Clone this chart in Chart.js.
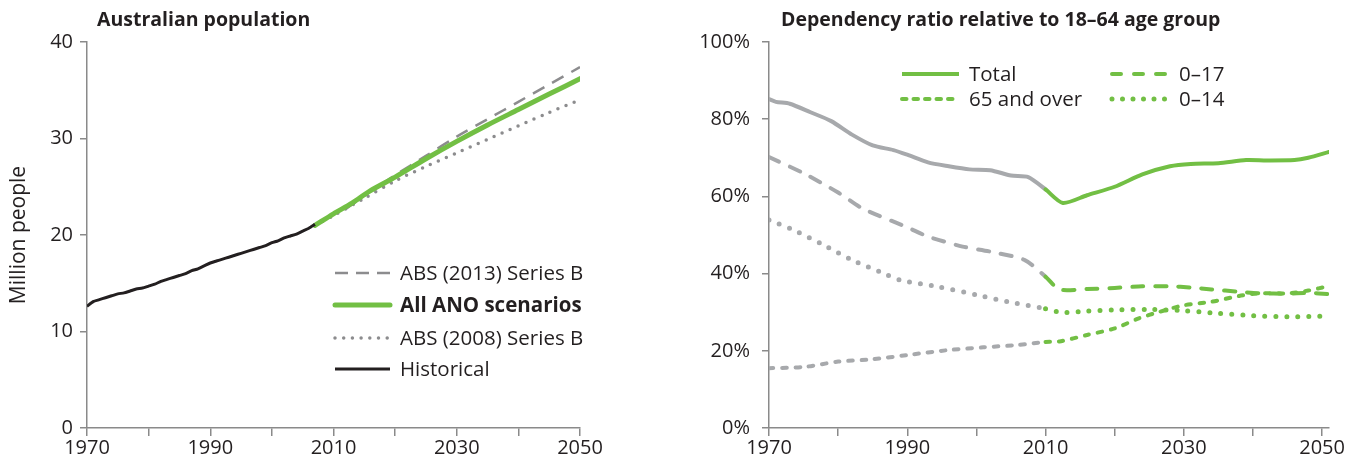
<!DOCTYPE html>
<html lang="en">
<head>
<meta charset="UTF-8">
<title>Australian population and dependency ratio</title>
<script src="https://cdn.jsdelivr.net/npm/chart.js"></script>
<style>
    body { margin: 0; background: #fff; }
    .painel { position: absolute; top: 0; height: 463px; }
    #esq { left: 0; width: 640px; }
    #dir { left: 660px; width: 694px; }
</style>
</head>
<body>
<div class="painel" id="esq"><canvas id="grafico-populacao"></canvas></div>
<div class="painel" id="dir"><canvas id="grafico-dependencia"></canvas></div>

<script>
    // ---- left chart: Australian population (million people)
    const historicalYears = [1970, 1971, 1972, 1973, 1974, 1975, 1976, 1977, 1978, 1979, 1980, 1981, 1982, 1983, 1984, 1985, 1986, 1987, 1988, 1989,
        1990, 1991, 1992, 1993, 1994, 1995, 1996, 1997, 1998, 1999, 2000, 2001, 2002, 2003, 2004, 2005, 2006, 2007];
    const historicalPop = [12.6, 13.1, 13.3, 13.5, 13.7, 13.9, 14.0, 14.2, 14.4, 14.5, 14.7, 14.9, 15.2, 15.4, 15.6, 15.8, 16.0, 16.3, 16.5, 16.8,
        17.1, 17.3, 17.5, 17.7, 17.9, 18.1, 18.3, 18.5, 18.7, 18.9, 19.2, 19.4, 19.7, 19.9, 20.1, 20.4, 20.7, 21.1];
    const anoYears = [2007, 2010, 2013, 2016, 2020, 2025, 2030, 2035, 2040, 2045, 2050];
    const anoPop = [21.0, 22.2, 23.3, 24.6, 26.0, 27.9, 29.7, 31.4, 33.0, 34.6, 36.2];
    const abs2013Years = [2012, 2016, 2020, 2025, 2030, 2035, 2040, 2045, 2050];
    const abs2013Pop = [22.7, 24.5, 26.2, 28.2, 30.2, 32.0, 33.8, 35.6, 37.4];
    const abs2008Years = [2007, 2010, 2015, 2020, 2025, 2030, 2035, 2040, 2045, 2050];
    const abs2008Pop = [21.0, 22.0, 23.8, 25.6, 27.1, 28.5, 29.9, 31.3, 32.7, 34.0];
    const popYearTicks = [1970, 1980, 1990, 2000, 2010, 2020, 2030, 2040, 2050];
    const popYearLabels = ['1970', '', '1990', '', '2010', '', '2030', '', '2050'];
    const popTicks = [0, 10, 20, 30, 40];

    // ---- right chart: dependency ratio relative to 18-64 (%)
    const totalYears = [1970, 1971, 1973, 1976, 1979, 1982, 1985, 1988, 1990, 1993, 1996, 1999, 2002, 2005, 2007.5, 2010, 2012.5,
        2016, 2020, 2024, 2028, 2031, 2035, 2039, 2042, 2046, 2048, 2051];
    const totalRatio = [85.2, 84.5, 84.0, 81.8, 79.5, 76.0, 73.2, 72.0, 70.8, 68.8, 67.8, 67.0, 66.8, 65.4, 65.0, 61.8, 58.3,
        60.3, 62.5, 65.7, 67.8, 68.4, 68.6, 69.4, 69.3, 69.4, 70.0, 71.5];
    const age0to17Years = [1970, 1975, 1980, 1983.5, 1990, 1993, 1998, 2002, 2007, 2010, 2012, 2016, 2020, 2024, 2028, 2031, 2034, 2038, 2041, 2045, 2048, 2051];
    const age0to17Ratio = [70.2, 66.0, 61.0, 56.9, 52.0, 49.6, 47.0, 45.7, 43.5, 39.2, 35.9, 36.0, 36.3, 36.7, 36.7, 36.4, 35.9, 35.3, 34.9, 34.8, 35.0, 34.7];
    const age65Years = [1970, 1975, 1980, 1985, 1990, 1996, 2001, 2006, 2010, 2012, 2016, 2020, 2023.5, 2026.5, 2030, 2034, 2038, 2041, 2045, 2048, 2051];
    const age65Ratio = [15.5, 15.8, 17.2, 17.8, 18.9, 20.2, 20.9, 21.5, 22.3, 22.4, 24.1, 25.8, 28.4, 30.1, 31.8, 32.7, 34.2, 34.9, 34.9, 35.6, 36.8];
    const age0to14Years = [1970, 1973.5, 1977.5, 1982, 1986, 1989, 1994.5, 2000, 2004.5, 2010, 2012.5, 2016, 2020, 2025, 2030, 2035, 2040, 2045, 2051];
    const age0to14Ratio = [53.9, 51.3, 47.8, 43.5, 40.5, 38.3, 36.6, 34.5, 32.7, 30.9, 29.9, 30.3, 30.6, 30.7, 30.4, 29.7, 29.1, 28.8, 29.0];
    const ratioYearTicks = [1970, 1980, 1990, 2000, 2010, 2020, 2030, 2040, 2050];
    const ratioYearLabels = ['1970', '', '1990', '', '2010', '', '2030', '', '2050'];
    const ratioTicks = [0, 20, 40, 60, 80, 100];
    const projectionStart = 2010;

    const GREEN = '#72bf44';
    const GREY = '#a7a9ac';
    const INK = '#231f20';
    const AXIS = '#8a8a8a';
    const FONT = '"Open Sans", "DejaVu Sans", sans-serif';

    function pontos(anos, valores) {
        return anos.map((ano, i) => ({ x: ano, y: valores[i] }));
    }

    // title + in-plot legend drawn on the canvas
    const extras = {
        id: 'extras',
        afterDraw(chart, args, opts) {
            const ctx = chart.ctx;
            const area = chart.chartArea;
            ctx.save();
            ctx.fillStyle = INK;
            ctx.textBaseline = 'middle';
            ctx.font = 'bold 19.5px ' + FONT;
            ctx.fillText(opts.title, area.left + opts.titleX, 20);
            opts.items.forEach(item => {
                const x = area.left + item.x;
                const y = area.top + item.y;
                ctx.beginPath();
                ctx.strokeStyle = item.color;
                ctx.lineWidth = item.width;
                ctx.lineCap = item.cap || 'butt';
                ctx.setLineDash(item.dash || []);
                ctx.moveTo(x, y);
                ctx.lineTo(x + opts.lineLen, y);
                ctx.stroke();
                ctx.setLineDash([]);
                ctx.fillStyle = INK;
                ctx.font = (item.bold ? 'bold ' : '') + '20.5px ' + FONT;
                ctx.fillText(item.text, x + opts.lineLen + 10, y + 1);
            });
            ctx.restore();
        }
    };

    function eixoX(min, max, ticks, labels, altura) {
        return {
            type: 'linear', min: min, max: max,
            afterBuildTicks: scale => { scale.ticks = ticks.map(v => ({ value: v })); },
            afterFit: scale => { scale.height = altura; },
            ticks: {
                autoSkip: false, maxRotation: 0, padding: 0, color: INK,
                font: { family: FONT, size: 20 },
                callback: (v, i) => labels[i]
            },
            grid: { drawOnChartArea: false, drawTicks: true, tickLength: 8, color: AXIS, lineWidth: 1.5 },
            border: { color: AXIS, width: 1.5 }
        };
    }

    function eixoY(min, max, ticks, largura, pad, fmt, titulo) {
        return {
            min: min, max: max,
            afterBuildTicks: scale => { scale.ticks = ticks.map(v => ({ value: v })); },
            afterFit: scale => { scale.width = largura; },
            title: titulo ? { display: true, text: titulo, color: INK, font: { family: FONT, size: 21 }, padding: { top: 6, bottom: 4 } } : { display: false },
            ticks: { padding: pad, color: INK, font: { family: FONT, size: 20 }, callback: fmt },
            grid: { drawOnChartArea: false, drawTicks: true, tickLength: 7, color: AXIS, lineWidth: 1.5 },
            border: { color: AXIS, width: 1.5 }
        };
    }

    Chart.defaults.animation = false;

    new Chart(document.getElementById('grafico-populacao'), {
        type: 'line',
        data: {
            datasets: [
                { label: 'Historical', data: pontos(historicalYears, historicalPop), borderColor: INK, borderWidth: 3, tension: 0.2 },
                { label: 'All ANO scenarios', data: pontos(anoYears, anoPop), borderColor: GREEN, borderWidth: 5, tension: 0.3, borderCapStyle: 'round' },
                { label: 'ABS (2013) Series B', data: pontos(abs2013Years, abs2013Pop), borderColor: '#8c8c8e', borderWidth: 2.5, borderDash: [13, 9], tension: 0.3 },
                { label: 'ABS (2008) Series B', data: pontos(abs2008Years, abs2008Pop), borderColor: '#8c8c8e', borderWidth: 3.5, borderDash: [0, 8.7], borderCapStyle: 'round', tension: 0.3 }
            ]
        },
        options: {
            responsive: true,
            maintainAspectRatio: false,
            layout: { padding: { left: 0, top: 42, right: 60, bottom: 0 } },
            elements: { point: { radius: 0 } },
            plugins: {
                legend: { display: false },
                tooltip: { enabled: false },
                extras: {
                    title: 'Australian population',
                    titleX: 10,
                    lineLen: 55,
                    items: [
                        { text: 'ABS (2013) Series B', x: 248, y: 231, color: '#8c8c8e', width: 2.5, dash: [13, 8] },
                        { text: 'All ANO scenarios', x: 248, y: 263, color: GREEN, width: 5, cap: 'round', bold: true },
                        { text: 'ABS (2008) Series B', x: 248, y: 296, color: '#8c8c8e', width: 3.5, dash: [0, 8.7], cap: 'round' },
                        { text: 'Historical', x: 248, y: 327, color: INK, width: 3 }
                    ]
                }
            },
            scales: {
                x: eixoX(1970, 2050, popYearTicks, popYearLabels, 35),
                y: eixoY(0, 40, popTicks, 87, 7, v => v, 'Million people')
            }
        },
        plugins: [extras]
    });

    const cor = ctx => ctx.p0.parsed.x < projectionStart ? GREY : GREEN;

    new Chart(document.getElementById('grafico-dependencia'), {
        type: 'line',
        data: {
            datasets: [
                { label: 'Total', data: pontos(totalYears, totalRatio), borderWidth: 4, tension: 0.25, borderCapStyle: 'round', segment: { borderColor: cor } },
                { label: '0–17', data: pontos(age0to17Years, age0to17Ratio), borderWidth: 4, borderDash: [11, 12], borderCapStyle: 'round', tension: 0.25, segment: { borderColor: cor } },
                { label: '65 and over', data: pontos(age65Years, age65Ratio), borderWidth: 4, borderDash: [4.5, 8.8], borderCapStyle: 'round', tension: 0.25, segment: { borderColor: cor } },
                { label: '0–14', data: pontos(age0to14Years, age0to14Ratio), borderWidth: 5, borderDash: [0, 11], borderCapStyle: 'round', tension: 0.25, segment: { borderColor: cor } }
            ]
        },
        options: {
            responsive: true,
            maintainAspectRatio: false,
            layout: { padding: { left: 0, top: 42, right: 25, bottom: 0 } },
            elements: { point: { radius: 0 } },
            plugins: {
                legend: { display: false },
                tooltip: { enabled: false },
                extras: {
                    title: 'Dependency ratio relative to 18–64 age group',
                    titleX: 12,
                    lineLen: 57,
                    items: [
                        { text: 'Total', x: 133, y: 32, color: GREEN, width: 4 },
                        { text: '65 and over', x: 133, y: 57, color: GREEN, width: 4, dash: [4.5, 7], cap: 'round' },
                        { text: '0–17', x: 343, y: 32, color: GREEN, width: 4, dash: [9, 13], cap: 'round' },
                        { text: '0–14', x: 343, y: 57, color: GREEN, width: 5, dash: [0, 10.5], cap: 'round' }
                    ]
                }
            },
            scales: {
                x: eixoX(1970, 2051, ratioYearTicks, ratioYearLabels, 35),
                y: eixoY(0, 100, ratioTicks, 109, 12, v => v + '%', null)
            }
        },
        plugins: [extras]
    });
</script>
</body>
</html>
